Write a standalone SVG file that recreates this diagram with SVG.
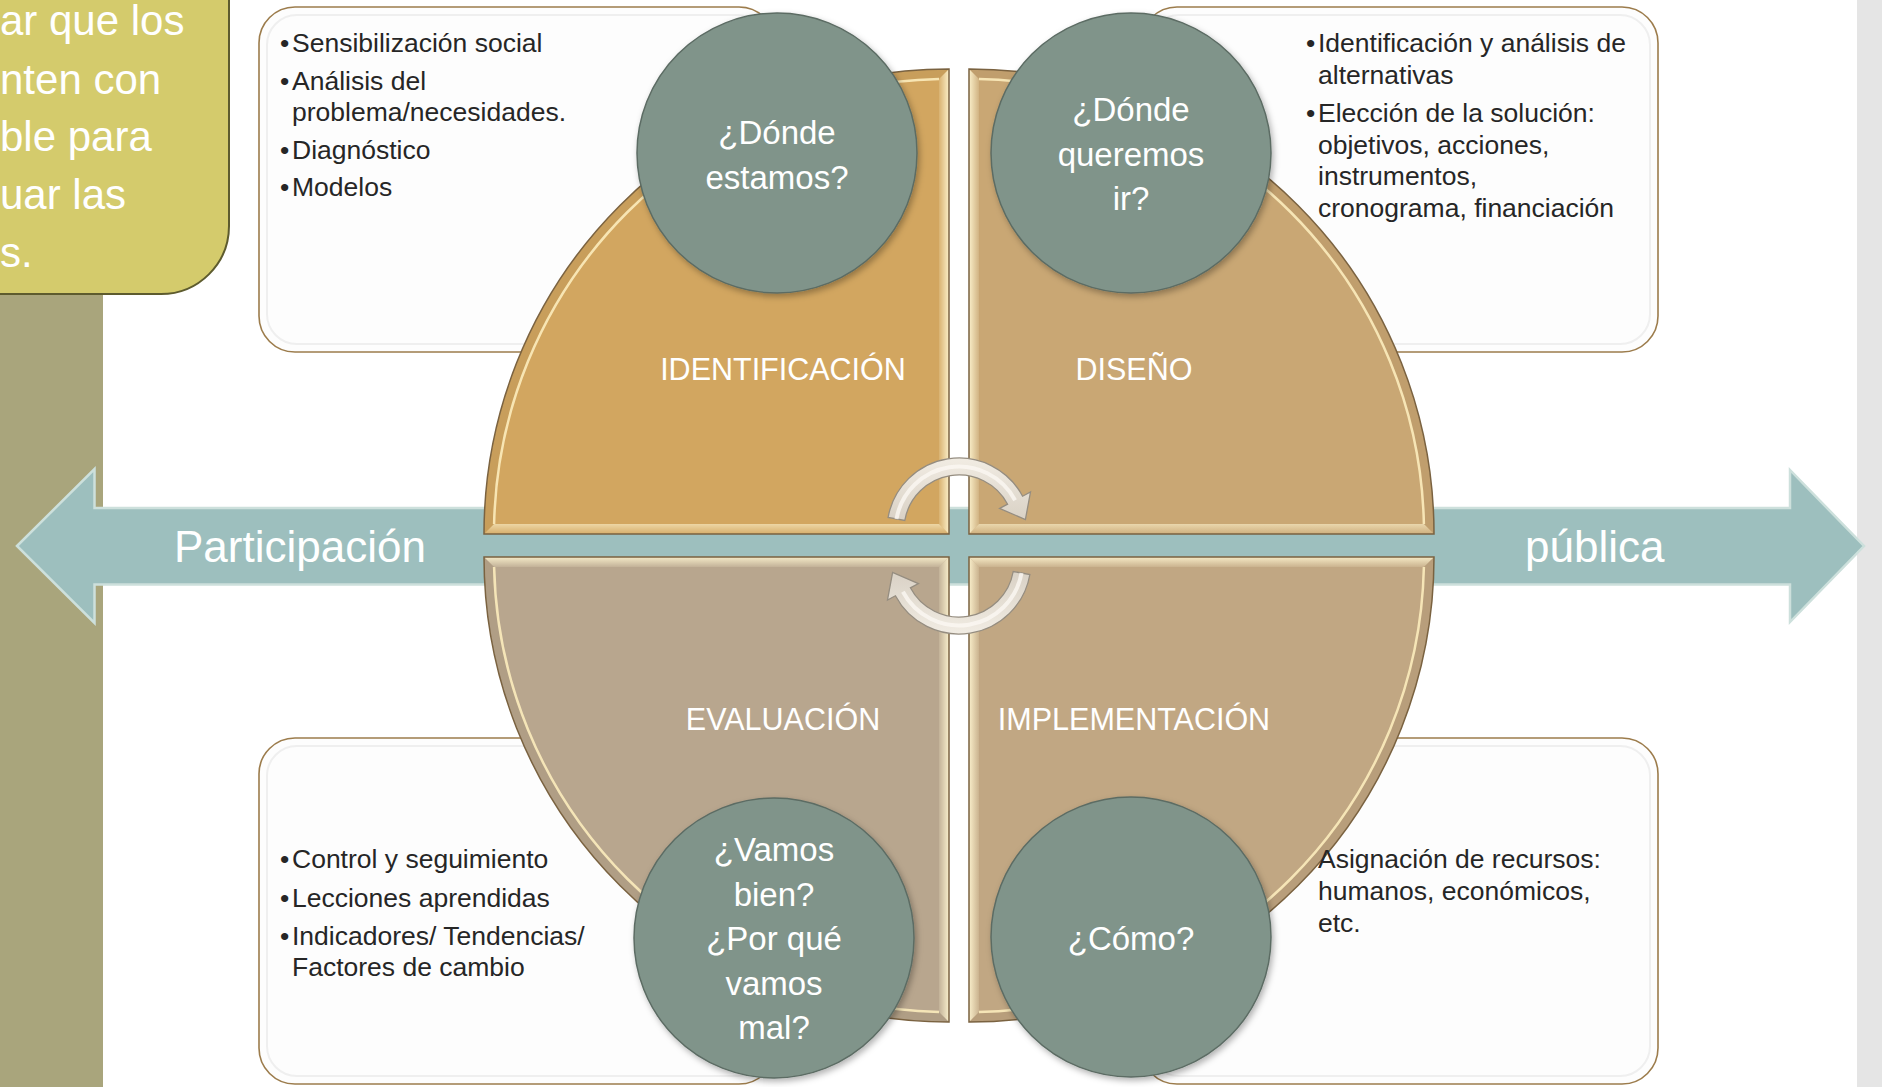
<svg xmlns="http://www.w3.org/2000/svg" width="1882" height="1087" viewBox="0 0 1882 1087">
<defs>
<style>
.t{font-family:"Liberation Sans",Arial,sans-serif}
.box{fill:#fdfdfd;stroke:#9c7c4c;stroke-width:1.6}
.boxin{fill:none;stroke:#efefef;stroke-width:2}
.bt{font-size:26.5px;fill:#262626}
.ql{font-size:30.5px;fill:#ffffff;text-anchor:middle}
.ct{font-size:33px;fill:#ffffff;text-anchor:middle}
.ot{font-size:42px;fill:#ffffff}
.al{font-size:44px;fill:#ffffff}
.circ{fill:#80948a;stroke:#5c6c64;stroke-width:1.5;filter:url(#sh)}
.qo{fill:none;stroke:#7a6240;stroke-width:1.5}
.ridge{fill:none;stroke:#fcecbc;stroke-width:2.5;opacity:.9}
.arcb{fill:#5a4020;opacity:.08}
.cyc{fill:url(#cycg);stroke:#958d80;stroke-width:1.3}
.cych{fill:none;stroke:#fbf8f2;stroke-width:4;opacity:.8}
</style>
<filter id="sh" x="-20%" y="-20%" width="140%" height="140%"><feDropShadow dx="2" dy="3" stdDeviation="3" flood-color="#000" flood-opacity="0.3"/></filter>
<linearGradient id="gR" x1="0" y1="0" x2="1" y2="0"><stop offset="0" stop-color="#fff6d2" stop-opacity=".15"/><stop offset="1" stop-color="#fff6d2" stop-opacity=".9"/></linearGradient>
<linearGradient id="gL" x1="1" y1="0" x2="0" y2="0"><stop offset="0" stop-color="#fff6d2" stop-opacity=".15"/><stop offset="1" stop-color="#fff6d2" stop-opacity=".9"/></linearGradient>
<linearGradient id="gB" x1="0" y1="1" x2="0" y2="0"><stop offset="0" stop-color="#fff6d2" stop-opacity=".1"/><stop offset="1" stop-color="#fff6d2" stop-opacity=".6"/></linearGradient>
<linearGradient id="gT" x1="0" y1="1" x2="0" y2="0"><stop offset="0" stop-color="#fff6d2" stop-opacity=".15"/><stop offset="1" stop-color="#fff6d2" stop-opacity=".85"/></linearGradient>
<linearGradient id="cycg" x1="0" y1="0" x2="0" y2="1"><stop offset="0" stop-color="#f1ece3"/><stop offset="1" stop-color="#d9d1c5"/></linearGradient>
</defs>
<rect x="0" y="0" width="1882" height="1087" fill="#ffffff"/>
<rect x="1857" y="0" width="25" height="1087" fill="#e5e5e5"/>
<rect x="0" y="0" width="103" height="1087" fill="#a9a57c"/>
<g id="olive-box">
<path d="M-10 -10 H229 V226 A68 68 0 0 1 161 294 H-10 Z" fill="#d4cb6c" stroke="#5d5b2e" stroke-width="2"/>
<text class="t ot" x="0" y="35">ar que los</text>
<text class="t ot" x="0" y="94">nten con</text>
<text class="t ot" x="0" y="151">ble para</text>
<text class="t ot" x="0" y="209">uar las</text>
<text class="t ot" x="0" y="267">s.</text>
</g>
<g id="box-identificacion">
<rect class="box" x="259" y="7" width="516" height="345" rx="36"/>
<rect class="boxin" x="267" y="15" width="500" height="329" rx="30"/>
<text class="t bt" y="52"><tspan x="280">•</tspan><tspan x="292">Sensibilización social</tspan></text>
<text class="t bt" y="89.5"><tspan x="280">•</tspan><tspan x="292">Análisis del</tspan></text>
<text class="t bt" x="292" y="121">problema/necesidades.</text>
<text class="t bt" y="158.5"><tspan x="280">•</tspan><tspan x="292">Diagnóstico</tspan></text>
<text class="t bt" y="196"><tspan x="280">•</tspan><tspan x="292">Modelos</tspan></text>
</g>
<g id="box-diseno">
<rect class="box" x="1141" y="7" width="517" height="345" rx="36"/>
<rect class="boxin" x="1149" y="15" width="501" height="329" rx="30"/>
<text class="t bt" y="52"><tspan x="1306">•</tspan><tspan x="1318">Identificación y análisis de</tspan></text>
<text class="t bt" x="1318" y="83.5">alternativas</text>
<text class="t bt" y="122"><tspan x="1306">•</tspan><tspan x="1318">Elección de la solución:</tspan></text>
<text class="t bt" x="1318" y="153.5">objetivos, acciones,</text>
<text class="t bt" x="1318" y="185">instrumentos,</text>
<text class="t bt" x="1318" y="216.5">cronograma, financiación</text>
</g>
<g id="box-evaluacion">
<rect class="box" x="259" y="738" width="516" height="346" rx="36"/>
<rect class="boxin" x="267" y="746" width="500" height="330" rx="30"/>
<text class="t bt" y="868"><tspan x="280">•</tspan><tspan x="292">Control y seguimiento</tspan></text>
<text class="t bt" y="906.5"><tspan x="280">•</tspan><tspan x="292">Lecciones aprendidas</tspan></text>
<text class="t bt" y="944.5"><tspan x="280">•</tspan><tspan x="292">Indicadores/ Tendencias/</tspan></text>
<text class="t bt" x="292" y="976">Factores de cambio</text>
</g>
<g id="box-implementacion">
<rect class="box" x="1141" y="738" width="517" height="346" rx="36"/>
<rect class="boxin" x="1149" y="746" width="501" height="330" rx="30"/>
</g>
<g id="participacion-arrow">
<path d="M17 546 L94.5 469 V508 H1790 V470 L1864 546 L1790 622 V584.5 H94.5 V623 Z" fill="#9dbfbe" stroke="#cde0dc" stroke-width="2.5" stroke-linejoin="miter"/>
<text class="t al" x="174" y="562">Participación</text>
<text class="t al" x="1525" y="562">pública</text>
</g>
<g id="q-identificacion">
<path d="M949 534 H484 A465 465 0 0 1 949 69 Z" fill="#d2a660"/>
<path class="arcb" d="M484 534 A465 465 0 0 1 949 69 L939 79.1 A455 455 0 0 0 494.1 524 Z"/>
<path d="M949 69 V534 L939 524 V79.1 Z" fill="url(#gR)"/>
<path d="M484 534 H949 L939 524 H494.1 Z" fill="url(#gB)"/>
<path class="ridge" d="M494.1 524 A455 455 0 0 1 939 79.1"/>
<path class="qo" d="M949 534 H484 A465 465 0 0 1 949 69 Z"/>
<text class="t ql" x="783" y="380">IDENTIFICACIÓN</text>
</g>
<g id="q-diseno">
<path d="M969 534 V69 A465 465 0 0 1 1434 534 Z" fill="#c9a774"/>
<path class="arcb" d="M969 69 A465 465 0 0 1 1434 534 L1423.9 524 A455 455 0 0 0 979 79.1 Z"/>
<path d="M969 69 V534 L979 524 V79.1 Z" fill="url(#gL)"/>
<path d="M969 534 H1434 L1423.9 524 H979 Z" fill="url(#gB)"/>
<path class="ridge" d="M979 79.1 A455 455 0 0 1 1423.9 524"/>
<path class="qo" d="M969 534 V69 A465 465 0 0 1 1434 534 Z"/>
<text class="t ql" x="1134" y="380">DISEÑO</text>
</g>
<g id="q-evaluacion">
<path d="M949 557 V1022 A465 465 0 0 1 484 557 Z" fill="#b8a68e"/>
<path class="arcb" d="M949 1022 A465 465 0 0 1 484 557 L494.1 567 A455 455 0 0 0 939 1011.9 Z"/>
<path d="M949 557 V1022 L939 1011.9 V567 Z" fill="url(#gR)"/>
<path d="M484 557 H949 L939 567 H494.1 Z" fill="url(#gT)"/>
<path class="ridge" d="M939 1011.9 A455 455 0 0 1 494.1 567"/>
<path class="qo" d="M949 557 V1022 A465 465 0 0 1 484 557 Z"/>
<text class="t ql" x="783" y="730">EVALUACIÓN</text>
</g>
<g id="q-implementacion">
<path d="M969 557 H1434 A465 465 0 0 1 969 1022 Z" fill="#c1a783"/>
<path class="arcb" d="M1434 557 A465 465 0 0 1 969 1022 L979 1011.9 A455 455 0 0 0 1423.9 567 Z"/>
<path d="M969 557 V1022 L979 1011.9 V567 Z" fill="url(#gL)"/>
<path d="M969 557 H1434 L1423.9 567 H979 Z" fill="url(#gT)"/>
<path class="ridge" d="M1423.9 567 A455 455 0 0 1 979 1011.9"/>
<path class="qo" d="M969 557 H1434 A465 465 0 0 1 969 1022 Z"/>
<text class="t ql" x="1134" y="730">IMPLEMENTACIÓN</text>
</g>
<g id="box-implementacion-text">
<text class="t bt" x="1318" y="868">Asignación de recursos:</text>
<text class="t bt" x="1318" y="899.5">humanos, económicos,</text>
<text class="t bt" x="1318" y="931.5">etc.</text>
</g>
<g id="connectors">
<g id="cycle-top">
<path class="cyc" d="M888.1 517.5 A72 72 0 0 1 1022.6 496.2 L1030.5 492 L1025.4 519.6 L999.6 508.4 L1007.6 504.2 A55 55 0 0 0 904.8 520.5 Z"/>
<path class="cych" d="M896.5 519 A63.5 63.5 0 0 1 1015.1 500.2"/>
</g>
<g id="cycle-bottom" transform="rotate(180 959 546)">
<path class="cyc" d="M888.1 517.5 A72 72 0 0 1 1022.6 496.2 L1030.5 492 L1025.4 519.6 L999.6 508.4 L1007.6 504.2 A55 55 0 0 0 904.8 520.5 Z"/>
<path class="cych" d="M896.5 519 A63.5 63.5 0 0 1 1015.1 500.2"/>
</g>
</g>
<g id="c-donde-estamos">
<circle class="circ" cx="777" cy="153" r="140"/>
<text class="t ct" x="777" y="144">¿Dónde</text>
<text class="t ct" x="777" y="188.7">estamos?</text>
</g>
<g id="c-donde-queremos">
<circle class="circ" cx="1131" cy="153" r="140"/>
<text class="t ct" x="1131" y="121">¿Dónde</text>
<text class="t ct" x="1131" y="165.5">queremos</text>
<text class="t ct" x="1131" y="210">ir?</text>
</g>
<g id="c-vamos-bien">
<circle class="circ" cx="774" cy="938" r="140"/>
<text class="t ct" x="774" y="861">¿Vamos</text>
<text class="t ct" x="774" y="905.5">bien?</text>
<text class="t ct" x="774" y="950">¿Por qué</text>
<text class="t ct" x="774" y="994.5">vamos</text>
<text class="t ct" x="774" y="1039">mal?</text>
</g>
<g id="c-como">
<circle class="circ" cx="1131" cy="937" r="140"/>
<text class="t ct" x="1131" y="950">¿Cómo?</text>
</g>
</svg>
